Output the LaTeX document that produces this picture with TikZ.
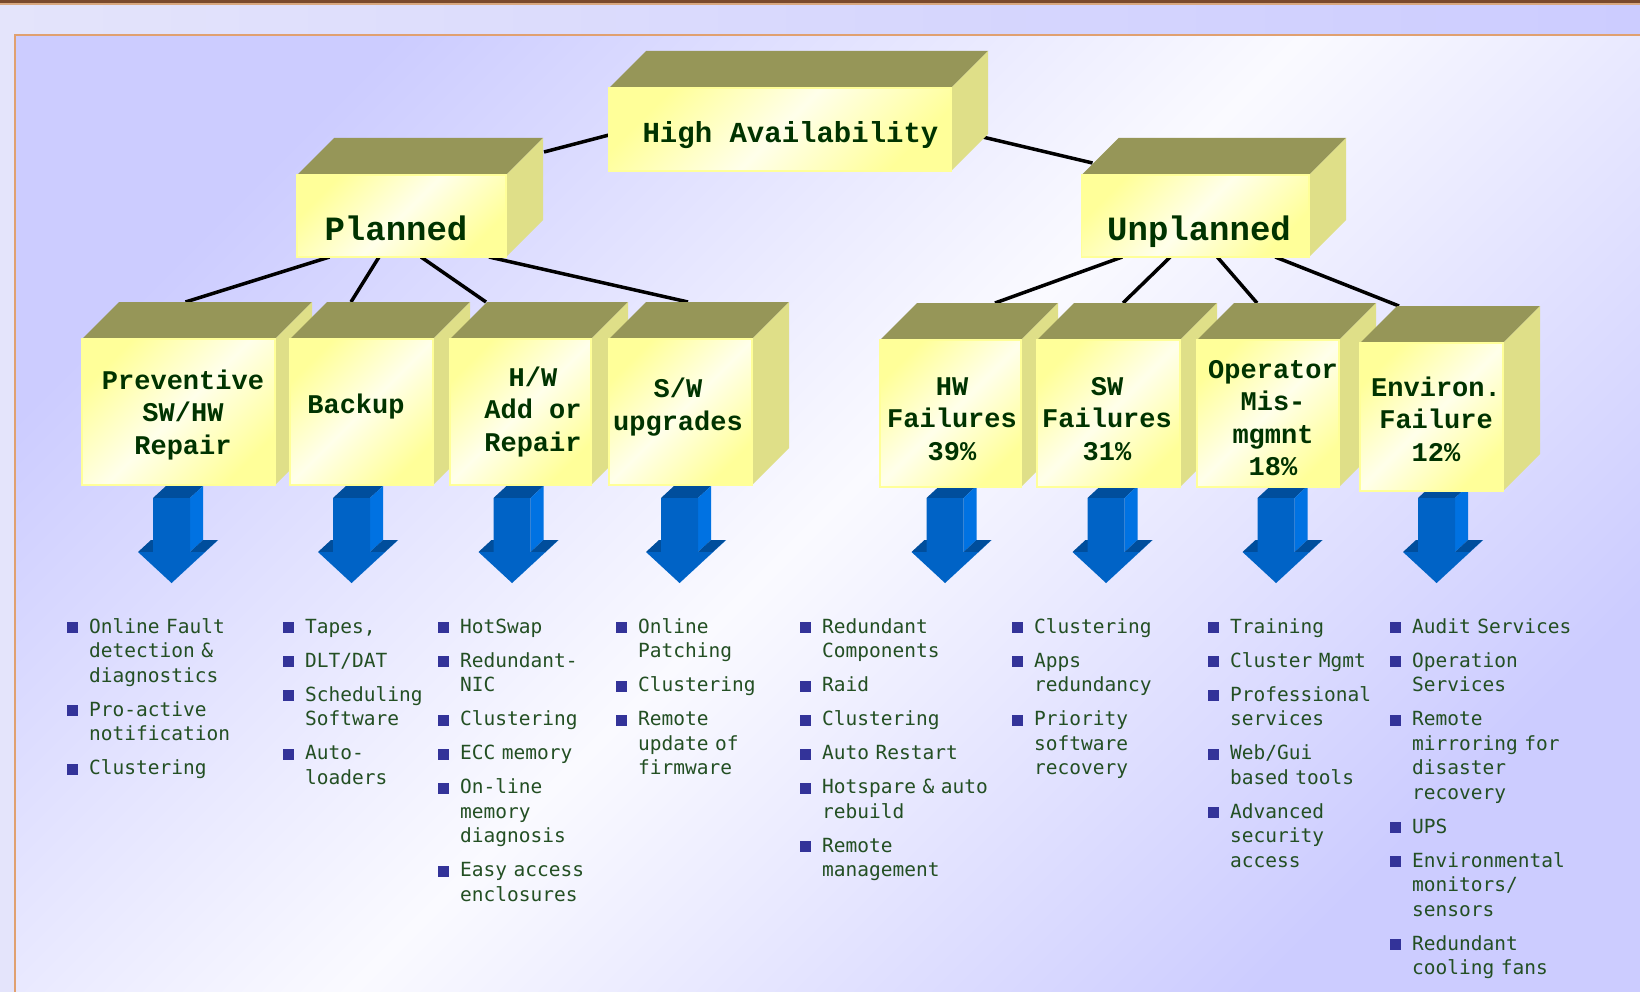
\documentclass[tikz,border=0pt]{standalone}
\usepackage{fontspec}
\usepackage{tikz}
\usetikzlibrary{calc,backgrounds}

\newfontfamily\boxfont{Liberation Mono}
\newfontfamily\listfont{DejaVu Sans Mono}

\definecolor{lblgreen}{HTML}{003300}
\definecolor{listgreen}{HTML}{234F23}
\definecolor{bulblue}{HTML}{333399}
\definecolor{boxolive}{HTML}{969658}
\definecolor{boxside}{HTML}{DFDF88}
\definecolor{fronty}{HTML}{FFFF99}
\definecolor{frontw}{HTML}{FFFFEA}
\definecolor{lav}{HTML}{CCCCFF}
\definecolor{lavlt}{HTML}{E4E4FB}
\definecolor{panelw}{HTML}{FAFAFF}
\definecolor{rim}{HTML}{E0A070}
\definecolor{brownbar}{HTML}{7A4A2C}
\definecolor{peach}{HTML}{D8A880}
\definecolor{arfront}{HTML}{0063C6}
\definecolor{ardark}{HTML}{004E9C}
\definecolor{arside}{HTML}{0072E2}

\tikzset{
  topface/.style={fill=boxolive},
  sideface/.style={fill=boxside},
  frontface/.style={top color=fronty, bottom color=fronty, middle color=frontw,
    shading angle=45, draw=fronty, line width=1.5pt, inner sep=0pt, outer sep=0pt},
  link/.style={line width=3.5pt, black},
  toplabel/.style={font=\boxfont\bfseries\fontsize{34}{40}\selectfont, text=lblgreen, anchor=base},
  boxlabel/.style={font=\boxfont\bfseries\fontsize{27}{32.5}\selectfont, text=lblgreen, align=center},
  bullets/.style={font=\listfont\fontsize{19.5}{24.5}\selectfont, text=listgreen,
    text width=220pt, align=left, inner sep=0pt, anchor=base west},
}

% box: name, front face from (#2,#3) to (#4,#5)
\newcommand{\cubebox}[5]{%
  \fill[topface] (#2,#3) -- ({#2+37},{#3-37}) -- ({#4+37},{#3-37}) -- (#4,#3) -- cycle;
  \fill[sideface] (#4,#3) -- ({#4+37},{#3-37}) -- ({#4+37},{#5-37}) -- (#4,#5) -- cycle;
  \node[frontface, minimum width={(#4-#2)*1pt}, minimum height={(#5-#3)*1pt}] (#1)
    at ({(#2+#4)/2},{(#3+#5)/2}) {};
  \coordinate (#1-t) at ({(#2+#4)/2+37},{#3-37});
}

% blue block arrow, #1 = centre x
\newcommand{\bluearrow}[1]{%
  \fill[ardark] ({#1-18.5},498) -- ({#1+18.5},498) -- ({#1+31.5},486) -- ({#1-5.5},486) -- cycle;
  \fill[arside] ({#1+18.5},498) -- ({#1+31.5},486) -- ({#1+31.5},540) -- ({#1+18.5},552) -- cycle;
  \fill[ardark] ({#1+18.5},552) -- ({#1+33.5},552) -- ({#1+46.5},540) -- ({#1+31.5},540) -- cycle;
  \fill[arside] ({#1+33.5},552) -- (#1,583) -- ({#1+13},571) -- ({#1+46.5},540) -- cycle;
  \fill[ardark] ({#1-33.5},552) -- ({#1-18.5},552) -- ({#1-5.5},540) -- ({#1-20.5},540) -- cycle;
  \fill[arfront] ({#1-18.5},498) -- ({#1+18.5},498) -- ({#1+18.5},552) -- ({#1+33.5},552)
    -- (#1,583) -- ({#1-33.5},552) -- ({#1-18.5},552) -- cycle;
}

\newcommand{\itm}{\par\addvspace{9.5pt}\noindent\hangindent=22pt\hangafter=1%
  \makebox[22pt][l]{\textcolor{bulblue}{\rule{11pt}{11pt}}}}

\begin{document}
\begin{tikzpicture}[x=1pt, y=-1pt]
          \useasboundingbox (0,0) rectangle (1640,992);
          % arrows
          \foreach \cx in {171.5, 351.5, 512, 679.5, 945, 1106, 1276, 1436.5}
            \bluearrow{\cx};
          % boxes
          \cubebox{ha}{609}{88}{951}{171}
          \cubebox{planned}{297}{175}{506}{257}
          \cubebox{unplanned}{1081.5}{175}{1309}{257}
          \cubebox{prev}{82}{339}{275}{485}
          \cubebox{backup}{290}{339}{433}{485}
          \cubebox{hwadd}{450}{339}{591}{485}
          \cubebox{swupg}{609}{339}{752}{485}
          \cubebox{hwfail}{880}{340}{1021}{487}
          \cubebox{swfail}{1037}{340}{1180}{487}
          \cubebox{operr}{1197}{340}{1339}{487}
          \cubebox{envfail}{1360}{343}{1503}{491}
          %
          \coordinate (ha-w) at (609,135);
          \coordinate (plan-se) at (544,152);
          \coordinate (unpl-nw) at (1092.5,163);
          \begin{pgfonlayer}{background}
            % background
            \fill[lavlt] (0,0) rectangle (1640,992);
            \shade[left color=lavlt, right color=lav] (0,4) rectangle (1640,34);
            \fill[brownbar] (0,0) rectangle (1640,3);
            \fill[peach] (0,3) rectangle (1640,5);
            \shade[top color=lav, bottom color=lav, middle color=panelw, shading angle=45] (15,35) rectangle (1640,992);
            \draw[rim, line width=2.5pt] (1640,35) -- (15,35) -- (15,992);
            % connectors
            \draw[link] (ha-w) -- (plan-se);
            \draw[link] (ha.east) -- (unpl-nw);
            \draw[link] ([xshift=-72pt]planned.south) -- ([xshift=-30pt]prev-t);
            \draw[link] ([xshift=-22.5pt]planned.south) -- ([xshift=-47.5pt]backup-t);
            \draw[link] ([xshift=19.5pt]planned.south) -- ([xshift=-71.5pt]hwadd-t);
            \draw[link] ([xshift=87.5pt]planned.south) -- ([xshift=-29.5pt]swupg-t);
            \draw[link] ([xshift=-73pt]unplanned.south) -- ([xshift=7.5pt]hwfail-t);
            \draw[link] ([xshift=-25pt]unplanned.south) -- ([xshift=-22.5pt]swfail-t);
            \draw[link] ([xshift=22pt]unplanned.south) -- ([xshift=-48pt]operr-t);
            \draw[link] ([xshift=80pt]unplanned.south) -- ([xshift=-69.5pt]envfail-t);
          \end{pgfonlayer}
          %
          \node[toplabel, font=\boxfont\bfseries\fontsize{29}{34}\selectfont] (halbl) at (790.5,143) {High Availability};
          \node[toplabel] (plannedlbl) at (396,241) {Planned};
          \node[toplabel] (unplannedlbl) at (1199,241) {Unplanned};
          \node[boxlabel] (prevlbl) at (183,415) {Preventive\\SW/HW\\Repair};
          \node[boxlabel] (backuplbl) at (356,407) {Backup};
          \node[boxlabel] (hwaddlbl) at (533,412) {H/W\\Add or\\Repair};
          \node[boxlabel] (swupglbl) at (678,407) {S/W\\upgrades};
          \node[boxlabel] (hwfaillbl) at (952,419) {HW\\Failures\\39\%};
          \node[boxlabel] (swfaillbl) at (1107,419) {SW\\Failures\\31\%};
          \node[boxlabel] (operrlbl) at (1273,418) {Operator\\Mis-\\mgmnt\\18\%};
          \node[boxlabel] (envfaillbl) at (1436,419) {Environ.\\Failure\\12\%};
          % lists
          \node[bullets] (prevlist) at (67,599) {\itm Online Fault\newline detection \&\newline diagnostics
            \itm Pro-active\newline notification \itm Clustering\par};
          \node[bullets] (backuplist) at (283,599) {\itm Tapes, \itm DLT/DAT \itm Scheduling\newline Software
            \itm Auto-\newline loaders\par};
          \node[bullets] (hwaddlist) at (438,599) {\itm HotSwap \itm Redundant-\newline NIC \itm Clustering
            \itm ECC memory \itm On-line\newline memory\newline diagnosis \itm Easy access\newline enclosures\par};
          \node[bullets] (swupglist) at (616,599) {\itm Online\newline Patching \itm Clustering
            \itm Remote\newline update of\newline firmware\par};
          \node[bullets] (hwfaillist) at (800,599) {\itm Redundant\newline Components \itm Raid \itm Clustering
            \itm Auto Restart \itm Hotspare \& auto\newline rebuild \itm Remote\newline management\par};
          \node[bullets] (swfaillist) at (1012,599) {\itm Clustering \itm Apps\newline redundancy
            \itm Priority\newline software\newline recovery\par};
          \node[bullets] (operrlist) at (1208,599) {\itm Training \itm Cluster Mgmt \itm Professional\newline services
            \itm Web/Gui\newline based tools \itm Advanced\newline security\newline access\par};
          \node[bullets] (envfaillist) at (1390,599) {\itm Audit Services \itm Operation\newline Services
            \itm Remote\newline mirroring for\newline disaster\newline recovery \itm UPS
            \itm Environmental\newline monitors/\newline sensors \itm Redundant\newline cooling fans\par};
        \end{tikzpicture}
\end{document}
